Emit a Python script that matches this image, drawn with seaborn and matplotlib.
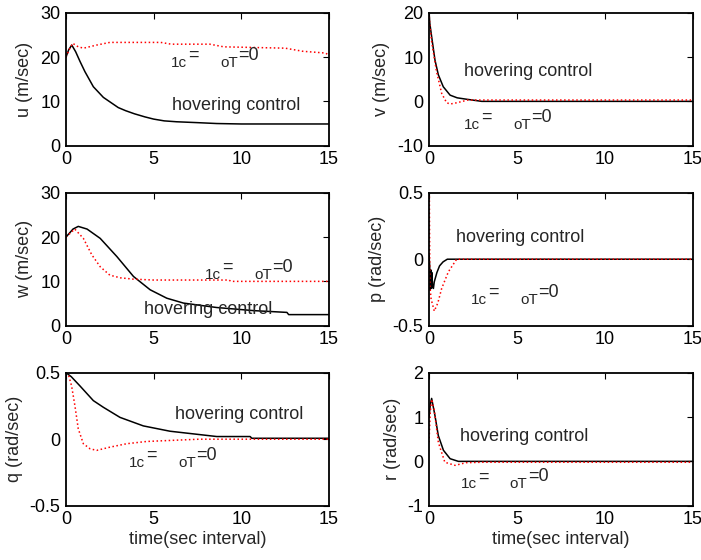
import numpy as np
import pandas as pd
import matplotlib
matplotlib.use("Agg")
import matplotlib.pyplot as plt
import seaborn as sns

# ---- values ----
# u (m/sec)
u_hov_t = [0, 0.15, 0.33, 0.55, 0.8, 1.08, 1.56, 2.13, 2.98, 3.4, 3.9, 4.5, 5.0, 5.6, 6.3, 7.5, 8.6, 10, 12, 15]
u_hov = [20, 21.6, 22.7, 21.2, 19.0, 16.7, 13.3, 10.9, 8.6, 7.9, 7.2, 6.5, 6.0, 5.6, 5.4, 5.2, 5.0, 4.9, 4.9, 4.9]
u_zero_t = [0, 0.2, 0.38, 0.7, 1.0, 1.75, 2.5, 5.4, 6.0, 8.2, 9.0, 12.5, 13.5, 14.8, 15]
u_zero = [20, 21.8, 23.1, 22.3, 22.0, 22.7, 23.3, 23.3, 22.9, 22.9, 22.3, 22.0, 21.3, 20.9, 20.4]

# v (m/sec)
v_hov_t = [0, 0.05, 0.15, 0.34, 0.53, 0.81, 1.2, 1.6, 2.1, 3.0, 15]
v_hov = [20, 17.5, 14.6, 9.3, 6.0, 3.3, 1.4, 0.8, 0.5, 0.0, 0.0]
v_zero_t = [0, 0.05, 0.15, 0.43, 0.72, 1.0, 1.2, 1.6, 2.2, 3.0, 15]
v_zero = [20, 17, 13.5, 6.7, 1.8, -0.3, -0.6, -0.3, 0.3, 0.3, 0.3]

# w (m/sec)
w_hov_t = [0, 0.4, 0.7, 1.2, 1.95, 2.9, 3.85, 4.8, 5.75, 6.7, 8.6, 10.7, 12.6, 12.7, 15]
w_hov = [20, 21.8, 22.4, 21.8, 19.7, 15.6, 11.1, 8.1, 6.2, 5.1, 4.1, 3.4, 3.0, 2.5, 2.5]
w_zero_t = [0, 0.5, 0.99, 1.47, 1.95, 2.5, 3.1, 3.85, 5.0, 9.3, 9.4, 15]
w_zero = [20, 21.8, 19.7, 16.0, 13.3, 11.4, 10.8, 10.5, 10.3, 10.3, 10.0, 10.0]

# p (rad/sec)
p_hov_t = [0, 0.04, 0.07, 0.1, 0.13, 0.16, 0.2, 0.25, 0.3, 0.45, 0.6, 0.8, 1.04, 3.6, 15]
p_hov = [0.03, -0.05, -0.23, -0.08, -0.22, -0.1, -0.2, -0.22, -0.17, -0.1, -0.05, -0.02, 0, 0, 0]
p_zero_t = [0, 0.02, 0.05, 0.12, 0.3, 0.5, 0.72, 1.1, 1.57, 2.0, 15]
p_zero = [0.5, 0.5, -0.2, -0.3, -0.39, -0.33, -0.22, -0.095, 0, 0, 0]

# q (rad/sec)
q_hov_t = [0, 0.3, 0.8, 1.56, 2.13, 3.08, 4.41, 5.93, 7.6, 8.6, 10.5, 10.6, 15]
q_hov = [0.5, 0.47, 0.40, 0.29, 0.24, 0.164, 0.10, 0.06, 0.035, 0.02, 0.02, 0.007, 0.007]
q_zero_t = [0, 0.15, 0.32, 0.51, 0.7, 0.99, 1.37, 1.75, 2.5, 3.46, 4.6, 7.6, 15]
q_zero = [0.5, 0.48, 0.40, 0.25, 0.078, -0.034, -0.072, -0.084, -0.06, -0.034, -0.017, 0, 0]

# r (rad/sec)
r_hov_t = [0, 0.08, 0.15, 0.34, 0.53, 0.82, 1.2, 1.67, 2.5, 15]
r_hov = [0.99, 1.3, 1.42, 1.03, 0.58, 0.25, 0.06, 0.0, 0.0, 0.0]
r_zero_t = [0, 0.07, 0.15, 0.3, 0.53, 0.9, 1.48, 2.1, 3.0, 15]
r_zero = [0.43, 1.1, 1.4, 1.15, 0.43, -0.02, -0.09, -0.03, -0.02, -0.02]

panels = [
    ("u (m/sec)", (0, 30), [0, 10, 20, 30], u_hov_t, u_hov, u_zero_t, u_zero, (6.06, 8.1), (5.99, 17.8)),
    ("v (m/sec)", (-10, 20), [-10, 0, 10, 20], v_hov_t, v_hov, v_zero_t, v_zero, (2.0, 5.7), (2.0, -6.3)),
    ("w (m/sec)", (0, 30), [0, 10, 20, 30], w_hov_t, w_hov, w_zero_t, w_zero, (4.47, 2.6), (7.93, 10.6)),
    ("p (rad/sec)", (-0.5, 0.5), [-0.5, 0, 0.5], p_hov_t, p_hov, p_zero_t, p_zero, (1.54, 0.13), (2.39, -0.338)),
    ("q (rad/sec)", (-0.5, 0.5), [-0.5, 0, 0.5], q_hov_t, q_hov, q_zero_t, q_zero, (6.22, 0.152), (3.61, -0.209)),
    ("r (rad/sec)", (-1, 2), [-1, 0, 1, 2], r_hov_t, r_hov, r_zero_t, r_zero, (1.78, 0.47), (1.8, -0.61)),
]

sns.set_style("white")
plt.rcParams["font.family"] = ["Liberation Sans", "DejaVu Sans"]
plt.rcParams["font.size"] = 13

fig = plt.figure(figsize=(7.01, 5.6), dpi=100)
lefts = [66 / 701, 429 / 701]
widths = [263 / 701, 264 / 701]
bottoms = [1 - 145.7 / 560, 1 - 325.7 / 560, 1 - 505.7 / 560]
h = 133 / 560

for i, (lab, ylim, yt, ht, hv, zt, zv, hpos, zpos) in enumerate(panels):
    row, col = divmod(i, 2)
    ax = fig.add_axes([lefts[col], bottoms[row], widths[col], h])
    sns.lineplot(x=ht, y=hv, ax=ax, color="black", lw=1.1, estimator=None, sort=False)
    sns.lineplot(x=zt, y=zv, ax=ax, color="red", lw=1.1, linestyle=":", estimator=None, sort=False)
    ax.set_xlim(0, 15)
    ax.set_ylim(*ylim)
    ax.set_xticks([0, 5, 10, 15])
    ax.set_yticks(yt)
    ax.set_yticklabels([("%g" % v) for v in yt])
    ax.tick_params(direction="in", length=4, width=0.8, top=True, right=True,
                   labelsize=13, pad=4, colors="black")
    for s in ax.spines.values():
        s.set_visible(True)
        s.set_color("black")
        s.set_linewidth(1.3)
    ax.set_ylabel(lab, fontsize=13, labelpad=5)
    if row == 2:
        ax.set_xlabel("time(sec interval)", fontsize=13, labelpad=2)
    else:
        ax.set_xlabel("")
    ax.text(hpos[0], hpos[1], "hovering control", fontsize=13, va="baseline", ha="left")
    # label "1c=   oT=0" (symbols lost in the original)
    for txt, dx, dy, fs in [("1c", 0, 0, 11), ("=", 17, 7, 13), ("oT", 49, 0, 11), ("=0", 67, 7, 13)]:
        ax.annotate(txt, xy=zpos, xycoords="data", xytext=(dx * 0.72, dy * 0.72),
                    textcoords="offset points", fontsize=fs, va="baseline", ha="left")

fig.savefig("out.png", dpi=100)
